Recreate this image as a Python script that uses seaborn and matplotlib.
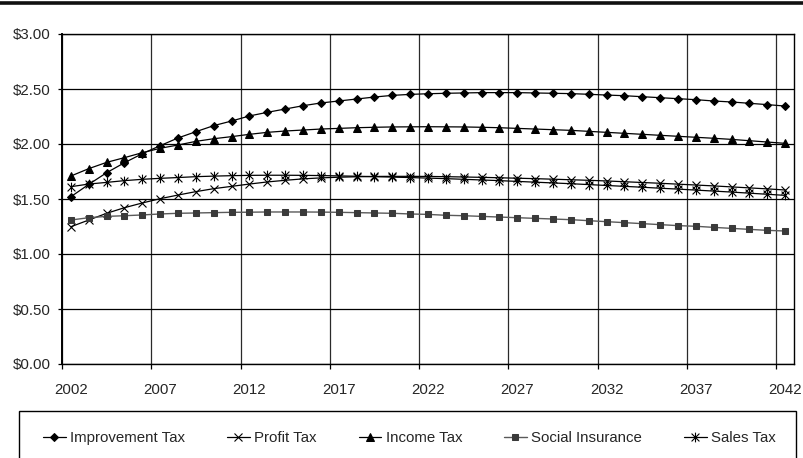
import numpy as np
import pandas as pd
import matplotlib
matplotlib.use("Agg")
import matplotlib.pyplot as plt
from matplotlib.path import Path
from matplotlib.lines import Line2D
from matplotlib.patches import Rectangle
import seaborn as sns

years = list(range(2002, 2043))

improvement_tax = [1.521, 1.633, 1.739, 1.830, 1.912, 1.985, 2.055, 2.112, 2.167, 2.209,
                   2.255, 2.288, 2.318, 2.348, 2.373, 2.391, 2.409, 2.427, 2.442, 2.451,
                   2.457, 2.461, 2.464, 2.467, 2.467, 2.467, 2.464, 2.461, 2.458, 2.452,
                   2.445, 2.439, 2.430, 2.421, 2.412, 2.403, 2.391, 2.382, 2.370, 2.358,
                   2.345]
profit_tax = [1.248, 1.309, 1.370, 1.421, 1.464, 1.503, 1.536, 1.567, 1.594, 1.615,
              1.636, 1.655, 1.670, 1.683, 1.692, 1.698, 1.702, 1.705, 1.706, 1.706,
              1.705, 1.703, 1.700, 1.697, 1.693, 1.689, 1.685, 1.680, 1.675, 1.670,
              1.664, 1.657, 1.650, 1.643, 1.635, 1.627, 1.619, 1.610, 1.601, 1.592,
              1.582]
income_tax = [1.709, 1.776, 1.833, 1.876, 1.921, 1.961, 1.991, 2.024, 2.048, 2.067,
              2.088, 2.106, 2.118, 2.127, 2.136, 2.142, 2.148, 2.152, 2.155, 2.156,
              2.157, 2.156, 2.155, 2.152, 2.148, 2.142, 2.136, 2.130, 2.124, 2.115,
              2.106, 2.097, 2.088, 2.079, 2.070, 2.061, 2.052, 2.042, 2.030, 2.018,
              2.006]
social_insurance = [1.309, 1.330, 1.342, 1.348, 1.355, 1.364, 1.370, 1.373, 1.376, 1.379,
                    1.380, 1.382, 1.382, 1.382, 1.381, 1.379, 1.376, 1.373, 1.370, 1.364,
                    1.360, 1.352, 1.348, 1.342, 1.336, 1.330, 1.324, 1.318, 1.312, 1.303,
                    1.294, 1.285, 1.276, 1.267, 1.258, 1.252, 1.242, 1.233, 1.224, 1.215,
                    1.209]
sales_tax = [1.612, 1.636, 1.651, 1.667, 1.679, 1.688, 1.695, 1.703, 1.708, 1.712,
             1.715, 1.716, 1.716, 1.715, 1.713, 1.710, 1.707, 1.703, 1.699, 1.695,
             1.690, 1.685, 1.679, 1.673, 1.667, 1.660, 1.653, 1.646, 1.639, 1.631,
             1.623, 1.615, 1.607, 1.598, 1.590, 1.581, 1.572, 1.563, 1.553, 1.543,
             1.533]

series_names = ["Improvement Tax", "Profit Tax", "Income Tax", "Social Insurance", "Sales Tax"]
label_years = [2002, 2007, 2012, 2017, 2022, 2027, 2032, 2037, 2042]
y_ticks = [0.0, 0.5, 1.0, 1.5, 2.0, 2.5, 3.0]

sns.set_style("white")
plt.rcParams["font.family"] = ["Liberation Sans", "DejaVu Sans"]

# asterisk marker: an X with a vertical stroke
asterisk = Path([(-0.5, -0.5), (0.5, 0.5), (-0.5, 0.5), (0.5, -0.5), (0, -0.62), (0, 0.62)],
                [Path.MOVETO, Path.LINETO] * 3)

styles = {
    "Improvement Tax": dict(marker="D", markersize=4.3, color="black", mec="black", mfc="black", lw=0.9),
    "Profit Tax": dict(marker="x", markersize=6, color="black", mec="black", mew=0.8, lw=0.9),
    "Income Tax": dict(marker="^", markersize=5.5, color="black", mec="black", mfc="black", lw=0.9),
    "Social Insurance": dict(marker="s", markersize=4.5, color="#5a5a5a", mec="#3a3a3a", mfc="#3a3a3a", lw=1.0),
    "Sales Tax": dict(marker=asterisk, markersize=7, color="black", mec="black", mew=0.8, lw=0.9),
}
values = {
    "Improvement Tax": improvement_tax,
    "Profit Tax": profit_tax,
    "Income Tax": income_tax,
    "Social Insurance": social_insurance,
    "Sales Tax": sales_tax,
}

fig = plt.figure(figsize=(8.04, 4.58), dpi=100)
ax = fig.add_axes([62 / 804, (458 - 364) / 458, 732 / 804, 330 / 458])

for name in series_names:
    df = pd.DataFrame({"year": years, "value": values[name]})
    sns.lineplot(data=df, x="year", y="value", ax=ax, label=name, **styles[name])

if ax.get_legend() is not None:
    ax.get_legend().remove()

# category boundaries carry the tick marks and the vertical grid
boundaries = [y - 0.5 for y in label_years]
ax.set_xlim(2001.5, 2042.5)
ax.set_xticks(boundaries)
ax.set_xticklabels([""] * len(boundaries))
ax.set_xticks(label_years, minor=True)
ax.set_xticklabels([str(y) for y in label_years], minor=True, fontsize=10.8)
ax.tick_params(axis="x", which="major", bottom=True, direction="out", length=3.8,
               width=0.9, color="black")
ax.tick_params(axis="x", which="minor", bottom=True, length=0, pad=14)

ax.set_ylim(0, 3.0)
ax.set_yticks(y_ticks)
ax.set_yticklabels([f"${v:.2f}" for v in y_ticks], fontsize=10.8)
ax.tick_params(axis="y", left=True, direction="out", length=3, width=0.9, color="black", pad=5)

ax.set_xlabel("")
ax.set_ylabel("")
ax.grid(True, axis="y", color="black", lw=0.9)
ax.grid(True, axis="x", which="major", color="#2a2a2a", lw=0.9)
ax.set_axisbelow(True)
for side in ["left", "right", "top", "bottom"]:
    ax.spines[side].set_visible(True)
    ax.spines[side].set_color("black")
    ax.spines[side].set_linewidth(1.0)
ax.spines["left"].set_linewidth(1.4)

# heavy rule across the top of the figure
fig.add_artist(Line2D([0, 1], [1 - 3.3 / 458, 1 - 3.3 / 458], transform=fig.transFigure,
                      color="#111111", lw=2.6, solid_capstyle="butt"))

# legend box, running past the bottom edge
fig.add_artist(Rectangle((19 / 804, -0.05), (796 - 19) / 804, 0.05 + (458 - 411) / 458,
                         transform=fig.transFigure, fill=False, edgecolor="black", lw=1.0))
handles, labels = ax.get_legend_handles_labels()
fig.legend(handles, labels, loc="center", bbox_to_anchor=(409.5 / 804, 1 - 438 / 458),
           ncol=5, frameon=False, fontsize=10.8, handlelength=1.5, handletextpad=0.3,
           columnspacing=2.8, borderaxespad=0, borderpad=0)

fig.savefig("out.png", dpi=100)
